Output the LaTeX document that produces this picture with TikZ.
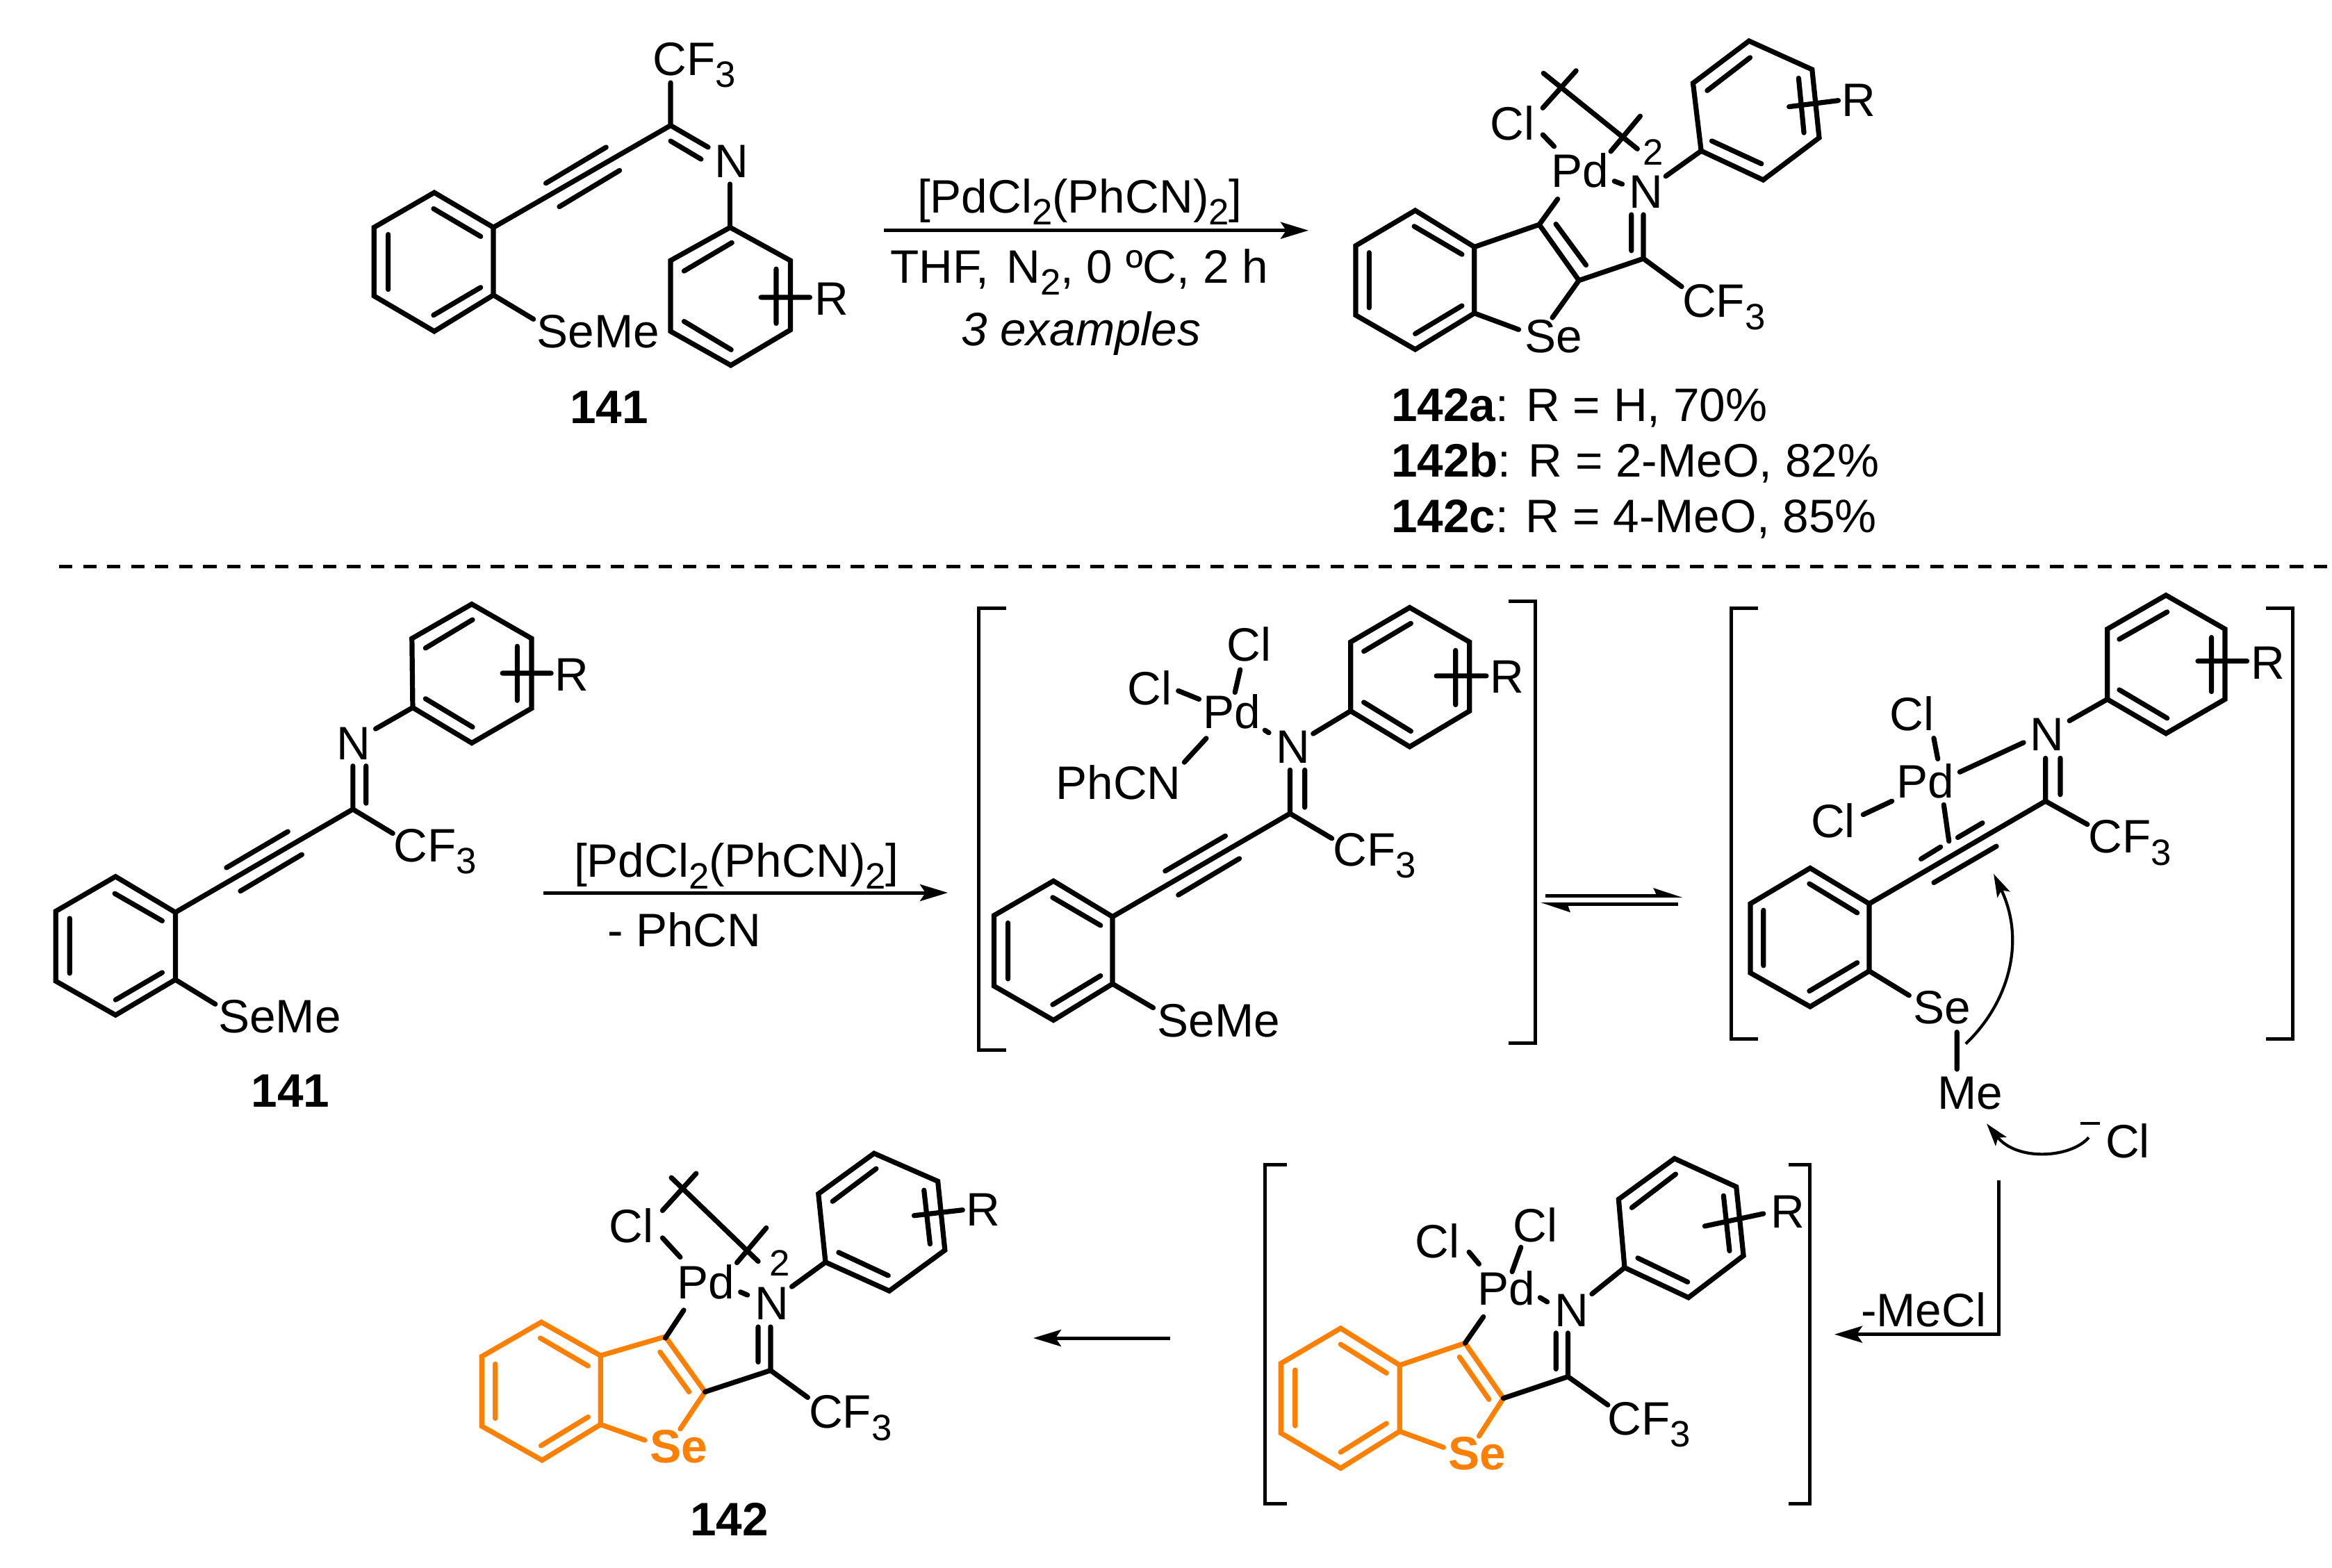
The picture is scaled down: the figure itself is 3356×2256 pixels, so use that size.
\documentclass[tikz,border=0pt]{standalone}
\usepackage{fontspec}
\setmainfont{Liberation Sans}
\usetikzlibrary{arrows.meta}
\definecolor{seorange}{HTML}{FF8000}
\newcommand\ft{\fontsize{19.2pt}{22pt}\selectfont}
\newcommand\csub[1]{\raisebox{-0.26em}{\fontsize{15pt}{16pt}\selectfont #1}}
\tikzset{
  bond/.style={line width=.072cm,line cap=round,line join=miter,draw=black},
  obond/.style={bond,draw=seorange},
  thin bond/.style={line width=.05cm,line cap=butt,line join=miter},
  rxn/.style={line width=.05cm,-{Stealth[length=.4cm,width=.24cm,inset=.08cm]}},
  curly/.style={line width=.042cm,-{Stealth[length=.33cm,width=.2cm,inset=.07cm]}},
  atom/.style={inner sep=0,outer sep=0,anchor=base west,font=\ft},
  oatom/.style={atom,text=seorange,font=\ft\bfseries},
  lab/.style={atom,font=\ft\bfseries},
}
\begin{document}
\begin{tikzpicture}[x=0.01cm,y=-0.01cm]
\path[use as bounding box,fill=white] (0,0) rectangle (3356,2256);

% ---------- structure 141, top
\begin{scope}[shift={(500,0)},x=0.00510204cm,y=-0.00408163cm]
\draw[bond] (245,680)--(412,803)--(412,1042)--(245,1170)--(75,1045)--(75,803)--cycle;
\draw[bond] (243,737)--(376,835) (376,1015)--(243,1113) (115,828)--(115,1022);
\draw[bond] (412,803)--(912,443) (560,647)--(730,520) (598,730)--(768,602);
\draw[bond] (912,443)--(912,292) (912,443)--(1018,520) (912,498)--(998,562);
\draw[bond] (1080,650)--(1080,803);
\draw[bond] (1080,803)--(1250,920)--(1250,1165)--(1082,1290)--(912,1170)--(912,920)--cycle;
\draw[bond] (1085,857)--(950,957) (950,1135)--(1083,1235) (1210,950)--(1210,1142) (1167,1050)--(1305,1050);
\draw[bond] (412,1042)--(525,1127);
\node[atom] (t1cf) at (862,266) {CF\csub{3}};
\node[atom] (t1n) at (1037,628) {N};
\node[atom] (t1r) at (1318,1112) {R};
\node[atom] (t1se) at (535,1228) {SeMe};
\node[lab] (t1lab) at (628,1495) {141};
\end{scope}

% ---------- top arrow and conditions
\draw[rxn] (1272,331.7)--(1883,331.7);
\node[atom] (c1a) at (1320,306) {[PdCl\csub{2}(PhCN)\csub{2}]};
\node[atom] (c1b) at (1281,407) {THF,\hspace{.09em} N\csub{2}, 0 ºC, 2 h};
\node[atom,font=\ft\itshape] (c1c) at (1383,497) {3 examples};

% ---------- structure 142 (dimer), top
\begin{scope}[shift={(1900,0)},x=0.00510204cm,y=-0.00357143cm]
\draw[bond] (268,848)--(435,995)--(435,1262)--(268,1408)--(100,1270)--(100,990)--cycle;
\draw[bond] (265,912)--(400,1025) (400,1232)--(268,1345) (138,1018)--(138,1240);
\draw[bond] (435,995)--(618,905)--(730,1130)--(655,1280) (665,903)--(750,1068) (435,1262)--(560,1328);
\draw[bond] (730,1130)--(912,1042)--(912,865) (878,1010)--(878,865) (912,1042)--(1020,1155);
\draw[bond] (618,905)--(670,802) (830,730)--(852,742) (628,543)--(660,590);
\draw[bond] (630,295)--(895,600) (628,435)--(722,285) (820,610)--(903,468);
\draw[bond] (975,710)--(1075,608);
\draw[bond] (1075,608)--(1250,725)--(1408,555)--(1388,280)--(1210,165)--(1052,335)--cycle;
\draw[bond] (1105,568)--(1245,660) (1365,535)--(1350,315) (1092,365)--(1213,232) (1323,430)--(1462,405);
\node[atom] (t2se) at (578,1422) {Se};
\node[atom] (t2n) at (872,838) {N};
\node[atom] (t2cf) at (1022,1278) {CF\csub{3}};
\node[atom] (t2pd) at (652,755) {Pd};
\node[atom] (t2cl) at (480,565) {Cl};
\node[atom,font=\fontsize{15pt}{16pt}\selectfont] (t2two) at (910,665) {2};
\node[atom] (t2r) at (1472,468) {R};
\end{scope}

% ---------- yield labels
\node[atom] (y1) at (2002,606) {\textbf{142a}: R = H, 70\%};
\node[atom] (y2) at (2002,686) {\textbf{142b}: R = 2-MeO, 82\%};
\node[atom] (y3) at (2002,766) {\textbf{142c}: R = 4-MeO, 85\%};

% ---------- divider
\draw[line width=.05cm,dash pattern=on .194cm off .151cm] (85,815)--(3356,815);

% ---------- structure 141, lower left
\begin{scope}[shift={(40,840)},x=0.0057398cm,y=-0.00510204cm]
\draw[bond] (220,827)--(370,928)--(370,1118)--(220,1218)--(70,1122)--(70,925)--cycle;
\draw[bond] (218,875)--(337,952) (337,1098)--(220,1175) (105,945)--(105,1100);
\draw[bond] (370,928)--(815,637)--(815,515) (848,620)--(848,515) (498,802)--(652,700) (533,868)--(687,765);
\draw[bond] (872,410)--(965,350) (815,637)--(915,705) (370,1118)--(470,1187);
\draw[bond] (965,350)--(1113,450)--(1263,352)--(1263,155)--(1113,58)--(963,155)--cycle;
\draw[bond] (997,325)--(1115,405) (997,182)--(1115,102) (1227,330)--(1227,177) (1190,253)--(1312,253);
\node[atom] (t3n) at (775,497) {N};
\node[atom] (t3r) at (1322,303) {R};
\node[atom] (t3cf) at (918,785) {CF\csub{3}};
\node[atom] (t3se) at (478,1267) {SeMe};
\node[lab] (t3lab) at (560,1478) {141};
\end{scope}

% ---------- middle arrow
\draw[rxn] (782,1285)--(1364,1285);
\node[atom] (c2a) at (826,1262) {[PdCl\csub{2}(PhCN)\csub{2}]};
\node[atom] (c2b) at (874,1362) {- PhCN};

% ---------- intermediate with PhCN
\begin{scope}[shift={(1380,840)},x=0.0057398cm,y=-0.00446429cm]
\draw[thin bond] (118,80)--(50,80)--(50,1502)--(118,1502);
\draw[thin bond] (1378,58)--(1445,58)--(1445,1478)--(1378,1478);
\draw[bond] (237,957)--(385,1072)--(385,1288)--(237,1405)--(88,1295)--(88,1068)--cycle;
\draw[bond] (235,1010)--(355,1100) (355,1262)--(235,1355) (123,1092)--(123,1272);
\draw[bond] (385,1072)--(830,740)--(830,600) (867,720)--(867,600) (517,925)--(668,812) (550,1002)--(703,885);
\draw[bond] (830,740)--(935,820) (888,483)--(982,410) (385,1288)--(487,1365);
\draw[bond] (982,410)--(1130,525)--(1280,410)--(1280,188)--(1130,77)--(982,188)--cycle;
\draw[bond] (1015,382)--(1133,475) (1015,218)--(1133,128) (1245,215)--(1245,390) (1197,297)--(1322,297);
\draw[bond] (767,472)--(777,480) (705,277)--(692,350) (550,345)--(602,372) (620,498)--(565,575);
\node[atom] (t4cf) at (938,908) {CF\csub{3}};
\node[atom] (t4n) at (795,577) {N};
\node[atom] (t4r) at (1332,353) {R};
\node[atom] (t4pd) at (612,467) {Pd};
\node[atom] (t4cl1) at (672,250) {Cl};
\node[atom] (t4cl2) at (422,390) {Cl};
\node[atom] (t4ph) at (243,695) {PhCN};
\node[atom] (t4se) at (498,1458) {SeMe};
\end{scope}

% ---------- equilibrium arrows
\fill (2224,1286.8) rectangle (2385,1291.8);
\fill (2379,1278)--(2421,1291.8)--(2385,1291.8)--(2382,1284)--cycle;
\fill (2255,1299.2) rectangle (2415,1304.2);
\fill (2217.7,1299.2)--(2260,1313.3)--(2257,1305)--(2255,1299.2)--cycle;

% ---------- intermediate with alkyne coordination
\begin{scope}[shift={(2450,840)},x=0.0057398cm,y=-0.00522959cm]
\draw[thin bond] (140,68)--(72,68)--(72,1252)--(140,1252);
\draw[thin bond] (1412,68)--(1480,68)--(1480,1252)--(1412,1252);
\draw[bond] (270,782)--(418,880)--(418,1065)--(270,1163)--(120,1070)--(120,880)--cycle;
\draw[bond] (268,825)--(388,905) (388,1042)--(268,1120) (153,898)--(153,1050);
\draw[bond] (418,880)--(860,598)--(860,480) (897,580)--(897,480) (548,757)--(597,724) (640,698)--(702,658) (580,822)--(737,722);
\draw[bond] (860,598)--(965,662) (920,377)--(1015,318);
\draw[bond] (1015,318)--(1162,412)--(1310,318)--(1310,125)--(1162,32)--(1015,125)--cycle;
\draw[bond] (1045,292)--(1165,370) (1045,153)--(1165,78) (1276,148)--(1276,297) (1242,213)--(1365,213);
\draw[bond] (580,425)--(590,482) (645,518)--(805,437) (403,635)--(475,598) (605,608)--(618,708);
\draw[bond] (418,1065)--(518,1132) (638,1233)--(638,1335);
\draw[curly] (660,1265) .. controls (770,1150) and (810,980) .. (730,798);
\node[atom] (t5cf) at (968,740) {CF\csub{3}};
\node[atom] (t5n) at (822,460) {N};
\node[atom] (t5r) at (1375,263) {R};
\node[atom] (t5pd) at (486,590) {Pd};
\node[atom] (t5cl1) at (470,403) {Cl};
\node[atom] (t5cl2) at (272,697) {Cl};
\node[atom] (t5se) at (528,1210) {Se};
\node[atom] (t5me) at (590,1445) {Me};
\end{scope}

% ---------- chloride attack and loss of MeCl
\draw[curly] (3006,1637.3) .. controls (2980,1667) and (2903,1672) .. (2859,1617.3);
\draw[line width=.042cm] (2994,1617)--(3021.7,1617);
\node[atom] (tcl) at (3030,1666) {Cl};
\node[atom] (tmecl) at (2678,1909.3) {-MeCl};
\coordinate (elbowtop) at (2876.7,1699.3);
\coordinate (elbow) at (2876.7,1920.7);
\coordinate (elbowend) at (2640,1920.7);
\draw[rxn,line join=miter] (elbowtop)--(elbow)--(elbowend);

% ---------- orange intermediate
\begin{scope}[shift={(1780,1640)},x=0.0057398cm,y=-0.00344388cm]
\draw[thin bond] (125,105)--(70,105)--(70,1520)--(125,1520);
\draw[thin bond] (1383,105)--(1437,105)--(1437,1520)--(1383,1520);
\draw[obond] (260,788)--(408,942)--(408,1218)--(260,1372)--(110,1225)--(110,935)--cycle;
\draw[obond] (260,855)--(375,975) (375,1185)--(260,1305) (146,962)--(146,1195);
\draw[obond] (408,942)--(572,850)--(668,1080)--(607,1238) (558,908)--(632,1085) (408,1218)--(518,1285);
\draw[bond] (668,1080)--(830,990)--(830,808) (800,958)--(800,808) (830,990)--(930,1108);
\draw[bond] (760,660)--(778,678) (572,850)--(618,740) (582,470)--(607,520) (712,450)--(690,552) (890,645)--(972,535);
\draw[bond] (972,535)--(1132,660)--(1270,485)--(1252,198)--(1097,80)--(957,250)--cycle;
\draw[bond] (1005,495)--(1130,595) (1235,465)--(1220,235) (990,285)--(1100,145) (1173,362)--(1320,310);
\node[oatom] (t6se) at (530,1378) {Se};
\node[atom] (t6cf) at (930,1232) {CF\csub{3}};
\node[atom] (t6n) at (797,780) {N};
\node[atom] (t6pd) at (603,692) {Pd};
\node[atom] (t6cl1) at (447,495) {Cl};
\node[atom] (t6cl2) at (692,428) {Cl};
\node[atom] (t6r) at (1338,370) {R};
\end{scope}

% ---------- bottom arrow
\draw[rxn] (1684,1926)--(1487,1926);

% ---------- structure 142, orange
\begin{scope}[shift={(650,1620)},x=0.00510204cm,y=-0.00401786cm]
\draw[obond] (253,705)--(420,825)--(420,1072)--(255,1200)--(85,1078)--(85,828)--cycle;
\draw[obond] (250,762)--(385,862) (385,1045)--(252,1148) (123,855)--(123,1050);
\draw[obond] (420,825)--(603,757)--(715,955)--(645,1088) (588,812)--(670,955) (420,1072)--(545,1128);
\draw[bond] (603,762)--(655,662) (715,955)--(900,878)--(900,722) (865,848)--(865,722) (900,878)--(1005,975);
\draw[bond] (815,597)--(835,608) (595,403)--(645,472) (620,187)--(865,487) (595,305)--(690,172) (805,492)--(888,367);
\draw[bond] (960,578)--(1055,490);
\draw[bond] (1055,490)--(1235,593)--(1392,447)--(1372,200)--(1192,100)--(1035,245)--cycle;
\draw[bond] (1092,455)--(1232,538) (1350,425)--(1333,232) (1075,272)--(1198,155) (1305,323)--(1442,303);
\node[oatom] (t7se) at (560,1210) {Se};
\node[atom] (t7cf) at (1008,1085) {CF\csub{3}};
\node[atom] (t7n) at (856,695) {N};
\node[atom] (t7pd) at (637,622) {Pd};
\node[atom] (t7cl) at (445,420) {Cl};
\node[atom,font=\fontsize{15pt}{16pt}\selectfont] (t7two) at (897,540) {2};
\node[atom] (t7r) at (1452,360) {R};
\node[lab] (t7lab) at (673,1470) {142};
\end{scope}
\end{tikzpicture}
\end{document}
